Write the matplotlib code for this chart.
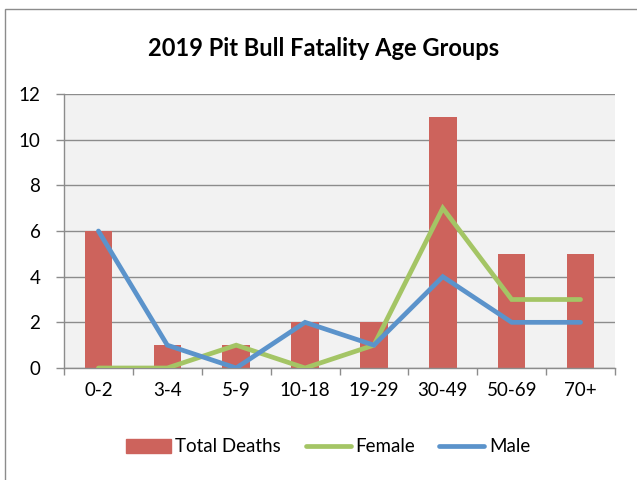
import matplotlib
matplotlib.use("Agg")
import matplotlib.pyplot as plt
from matplotlib.patches import Rectangle
from matplotlib.lines import Line2D
import numpy as np

categories = ["0-2", "3-4", "5-9", "10-18", "19-29", "30-49", "50-69", "70+"]
total_deaths = [6, 1, 1, 2, 2, 11, 5, 5]
female = [0, 0, 1, 0, 1, 7, 3, 3]
male = [6, 1, 0, 2, 1, 4, 2, 2]
yticks = [0, 2, 4, 6, 8, 10, 12]

plt.rcParams['font.family'] = ['Lato', 'DejaVu Sans']

W, H = 637, 480
fig = plt.figure(figsize=(W / 100, H / 100), dpi=100)

# outer chart border
fig.patches.append(Rectangle((5 / W, -0.01), 1.0, (H - 9) / H + 0.01, transform=fig.transFigure,
                             fill=False, edgecolor="#8c8c8c", linewidth=1.0))

ax = fig.add_axes([64 / W, 112 / H, 551 / W, 274 / H])
ax.set_facecolor("#f2f2f2")
x = np.arange(len(categories))

ax.bar(x, total_deaths, width=0.4, color="#cd635c", zorder=2)
ax.plot(x, female, color="#a4c565", linewidth=3.4, solid_capstyle="round", solid_joinstyle="miter", zorder=3)
ax.plot(x, male, color="#5b93cb", linewidth=3.4, solid_capstyle="round", solid_joinstyle="miter", zorder=4)

ax.set_xlim(-0.5, len(categories) - 0.5)
ax.set_ylim(0, 12)
ax.set_yticks(yticks)
ax.set_yticklabels([str(v) for v in yticks], fontsize=13.5)
ax.yaxis.grid(True, color="#8c8c8c", linewidth=1.0, zorder=0)
ax.set_axisbelow(True)

ax.set_xticks(x)
ax.set_xticklabels(categories, fontsize=13.5)
ax.tick_params(axis="x", which="major", length=0, pad=10)
ax.set_xticks(np.arange(len(categories) + 1) - 0.5, minor=True)
ax.tick_params(axis="x", which="minor", length=5, color="#8c8c8c", width=1)
ax.tick_params(axis="y", length=6, color="#8c8c8c", width=1, pad=11)

for s in ["top", "right"]:
    ax.spines[s].set_visible(False)
for s in ["left", "bottom"]:
    ax.spines[s].set_color("#8c8c8c")
    ax.spines[s].set_linewidth(1.0)

fig.text(0.5 * (145 + 503) / W, 1 - 48 / H, "2019 Pit Bull Fatality Age Groups",
         ha="center", va="center", fontsize=17, fontweight="bold")

handles = [Rectangle((0, 0), 1, 1, color="#cd635c"),
           Line2D([0], [0], color="#a4c565", linewidth=3.4, solid_capstyle="round"),
           Line2D([0], [0], color="#5b93cb", linewidth=3.4, solid_capstyle="round")]
fig.legend(handles, ["Total Deaths", "Female", "Male"], loc="center",
           bbox_to_anchor=(328 / W, 1 - 447 / H), ncol=3, frameon=False,
           fontsize=13.5, handlelength=2.4, handletextpad=0.25, columnspacing=1.3)

fig.savefig("out.png", dpi=100)
